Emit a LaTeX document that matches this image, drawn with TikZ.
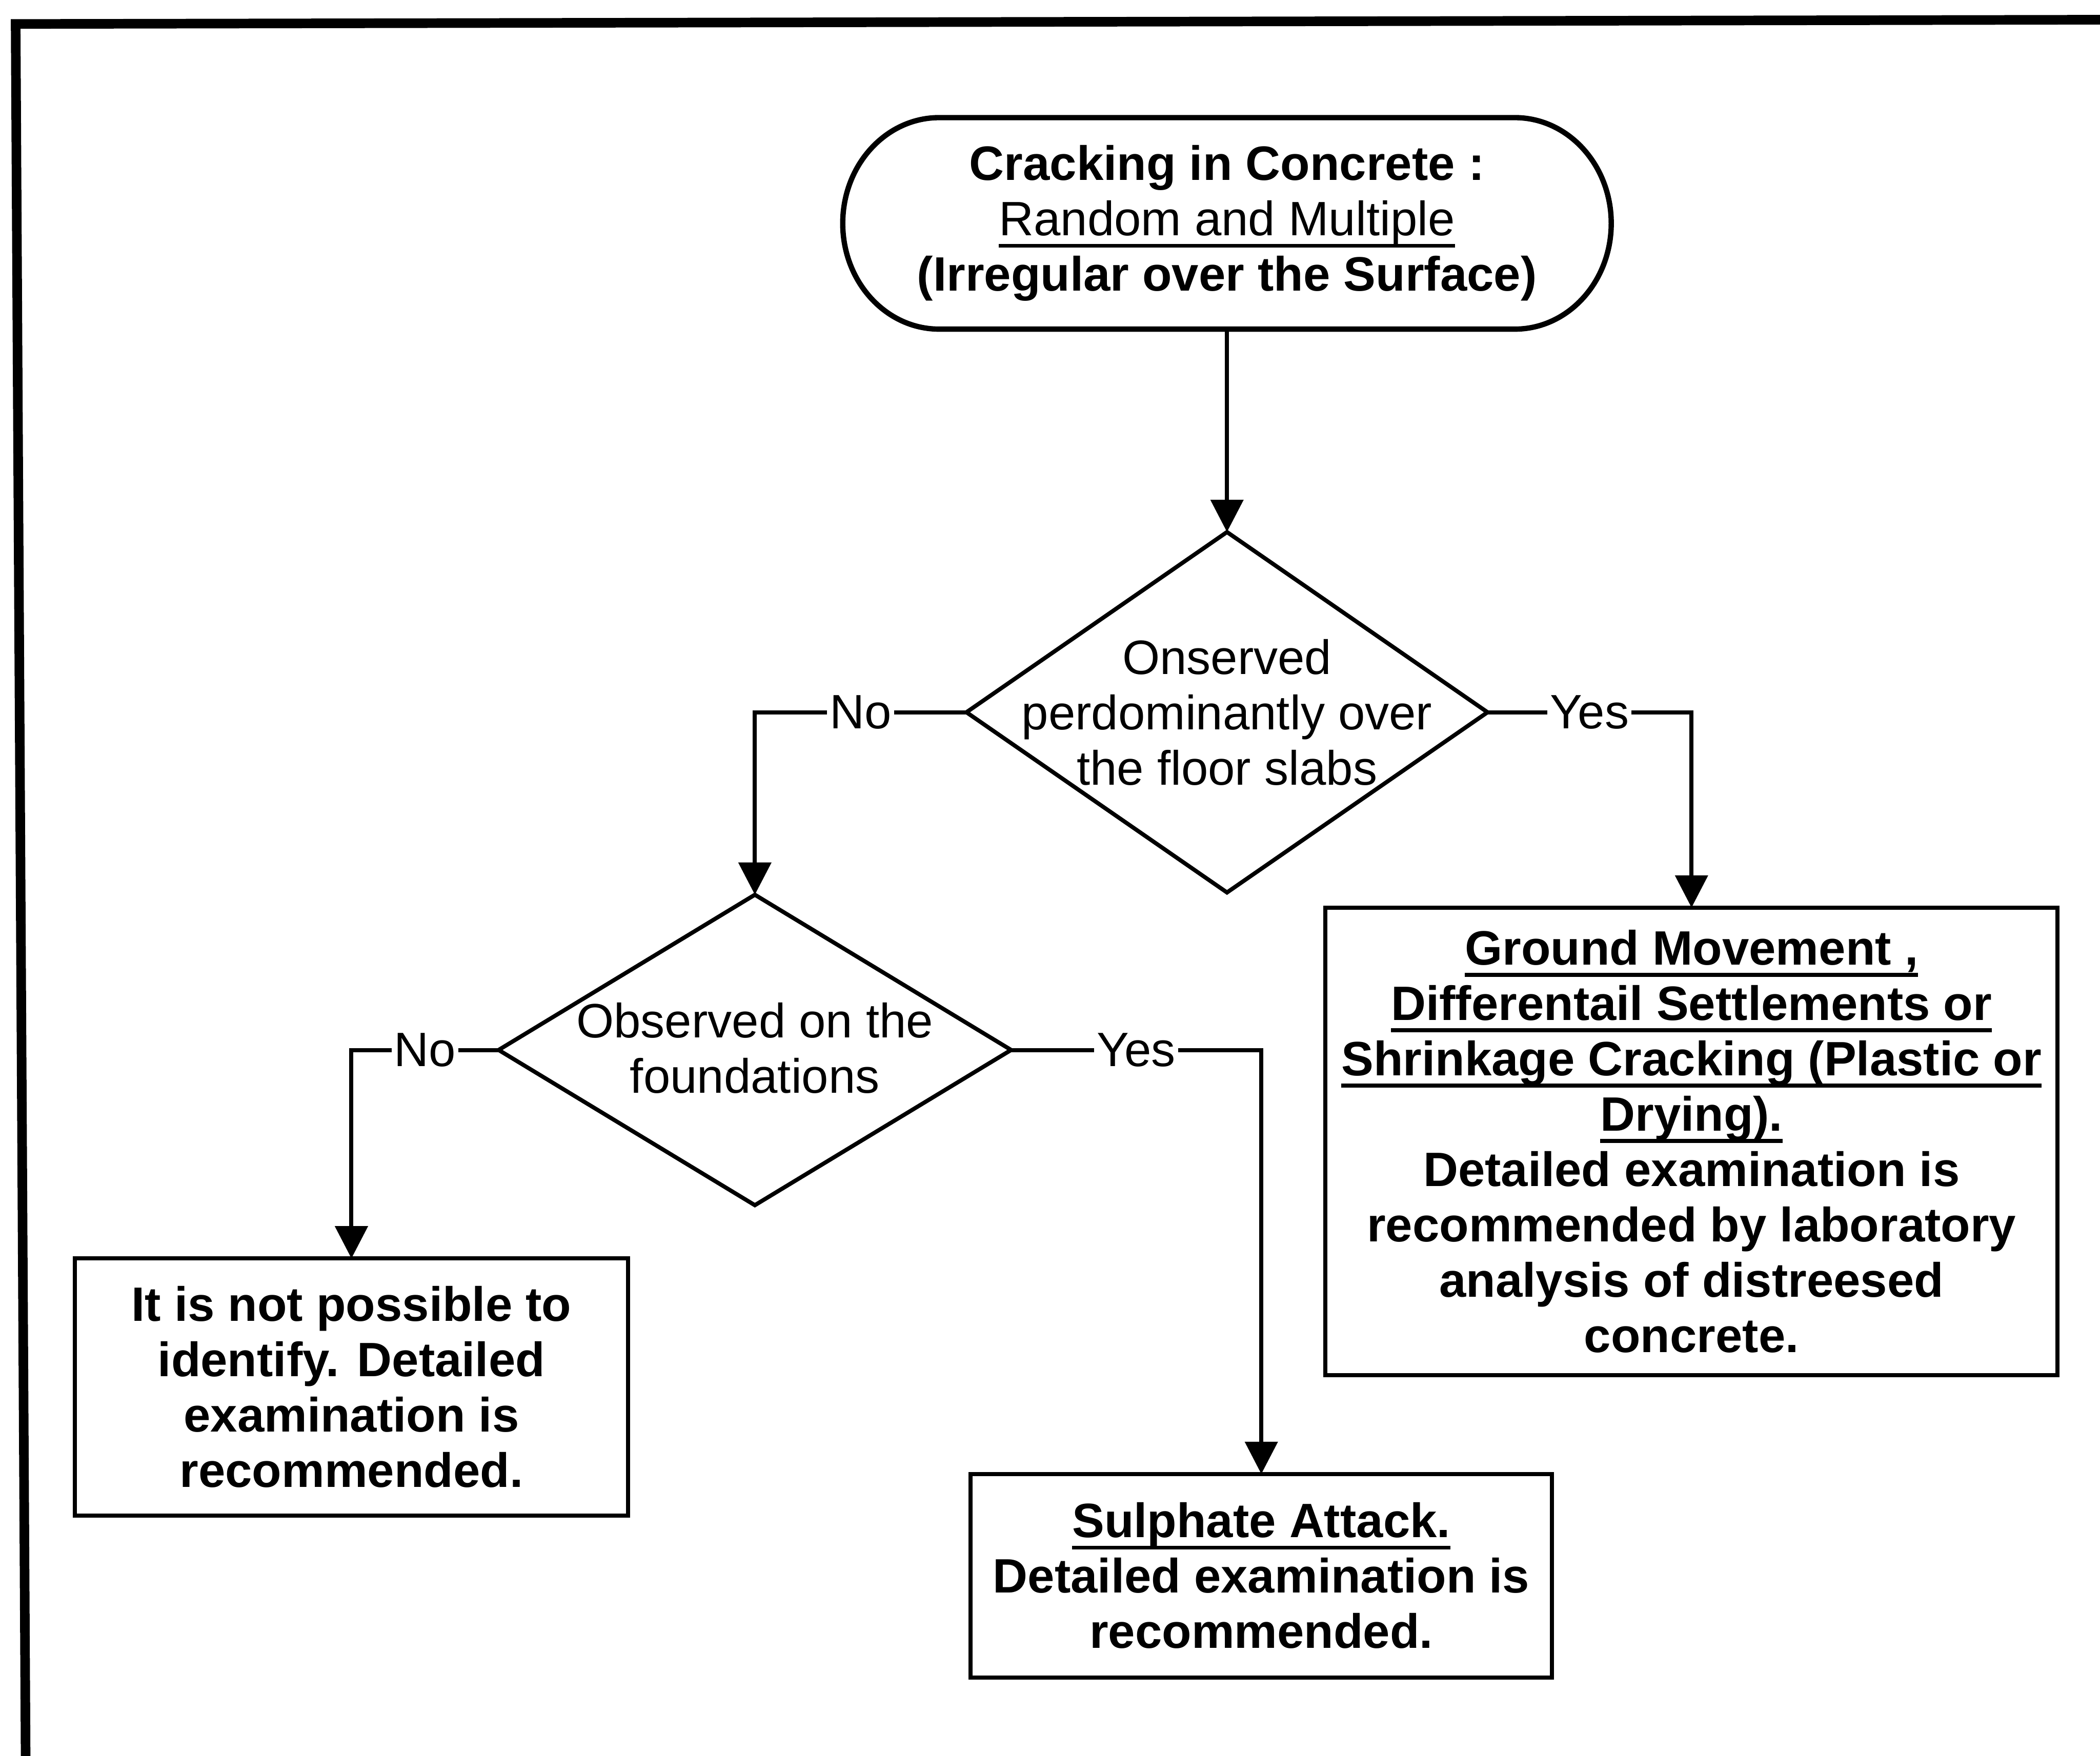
\documentclass[tikz,border=0pt]{standalone}
\usepackage{fontspec}
\setmainfont{Liberation Sans}
\usetikzlibrary{arrows.meta,shapes.geometric}

\newcommand{\tsize}{\fontsize{27.2pt}{31.2pt}\selectfont}
% thick underline drawn just below the descenders
\newcommand{\uln}[1]{\setbox0\hbox{#1}\leavevmode\rlap{\rule[-6.8pt]{\wd0}{2.2pt}}\box0}

\tikzset{
  txt/.style={font=\tsize, align=center, inner sep=0pt, outer sep=0pt},
  boxnode/.style={txt, draw, line width=2.3pt, font=\tsize\bfseries},
  decision/.style={diamond, draw, line width=2.3pt, inner sep=0pt, outer sep=0pt},
  conn/.style={line width=2.3pt, -{Triangle[width=0.64cm,length=0.64cm]}},
  lbl/.style={font=\tsize, fill=white, inner sep=1.5pt},
}

\begin{document}
\begin{tikzpicture}
\useasboundingbox (0,0) rectangle (41.59,-34.78);

% frame lines along the top and the left side
\draw[line width=0.19cm, line join=miter] (0.51,-35.2) -- (0.31,-0.475) -- (41.9,-0.39);

% start terminal with elliptical ends
\node[txt, minimum width=15.22cm, minimum height=4.19cm] (start) at (24.30,-4.425)
  {\textbf{Cracking in Concrete :}\\ \uln{Random and Multiple}\\ \textbf{(Irregular over the Surface)}};
\draw[line width=3pt]
  ([xshift=1.91cm]start.north west) -- ([xshift=-1.91cm]start.north east)
  arc[start angle=90, end angle=-90, x radius=1.91cm, y radius=2.095cm]
  -- ([xshift=1.91cm]start.south west)
  arc[start angle=270, end angle=90, x radius=1.91cm, y radius=2.095cm]
  -- cycle;

% decisions
\node[decision, minimum width=10.32cm, minimum height=7.14cm] (d1) at (24.30,-14.11) {};
\node[txt] (d1text) at (d1) {Onserved\\perdominantly over\\the floor slabs};

\node[decision, minimum width=10.15cm, minimum height=6.15cm] (d2) at (14.95,-20.80) {};
\node[txt] (d2text) at ([yshift=0.04cm]d2) {Observed on the\\foundations};

% outcomes
\node[boxnode, minimum width=14.50cm, minimum height=9.26cm] (gm) at (33.50,-22.61)
  {\uln{Ground Movement ,}\\
   \uln{Differentail Settlements or}\\
   \uln{Shrinkage Cracking (Plastic or}\\
   \uln{Drying).}\\
   Detailed examination is\\
   recommended by laboratory\\
   analysis of distreesed\\
   concrete.};

\node[boxnode, minimum width=10.95cm, minimum height=5.09cm] (np) at (6.96,-27.475)
  {It is not possible to\\ identify. Detailed\\ examination is\\ recommended.};

\node[boxnode, minimum width=11.51cm, minimum height=4.03cm] (sa) at (24.98,-31.215)
  {\uln{Sulphate Attack.}\\ Detailed examination is\\ recommended.};

% connectors
\draw[conn] (start.south) -- (d1.north);
\draw[conn] (d1.west) -| node[lbl, pos=0.25] {No} (d2.north);
\draw[conn] (d1.east) -| node[lbl, pos=0.25] {Yes} (gm.north);
\draw[conn] (d2.west) -| node[lbl, pos=0.25] {No} (np.north);
\draw[conn] (d2.east) -| node[lbl, pos=0.25] {Yes} (sa.north);
\end{tikzpicture}
\end{document}
